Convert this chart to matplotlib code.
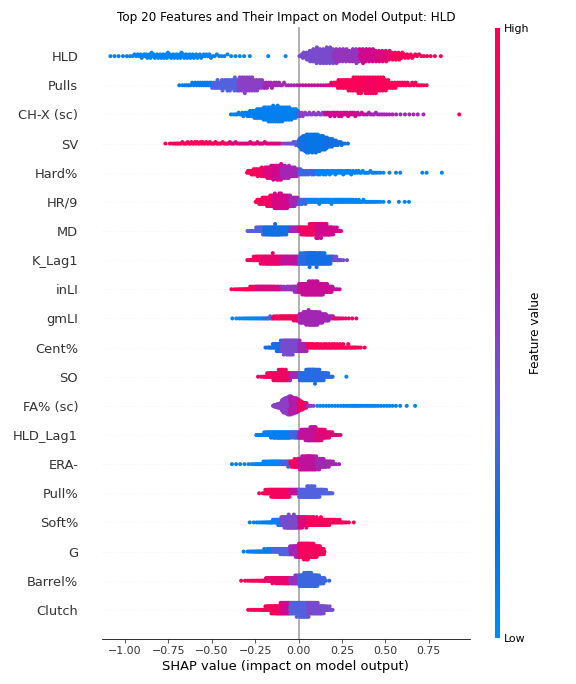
import numpy as np
import matplotlib
matplotlib.use('Agg')
import matplotlib.pyplot as plt
from matplotlib.colors import LinearSegmentedColormap

# =========================================================
# data: per feature, left edge of first 0.05-wide bin, point counts per bin,
# mean feature value per bin (0 = low, 1 = high)
# =========================================================
FEATURES = ['HLD', 'Pulls', 'CH-X (sc)', 'SV', 'Hard%', 'HR/9', 'MD', 'K_Lag1',
            'inLI', 'gmLI', 'Cent%', 'SO', 'FA% (sc)', 'HLD_Lag1', 'ERA-',
            'Pull%', 'Soft%', 'G', 'Barrel%', 'Clutch']

BIN_W = 0.05

X0 = [-1.10, -0.70, -0.40, -0.80, -0.30, -0.25, -0.30, -0.30,
      -0.40, -0.40, -0.20, -0.25, -0.15, -0.25, -0.40,
      -0.25, -0.30, -0.35, -0.35, -0.30]

COUNTS = [
    [2, 2, 3, 6, 8, 8, 9, 8, 9, 8, 7, 6, 4, 3, 2, 2, 1, 0, 1, 0, 1, 0,
     10, 22, 24, 26, 22, 20, 22, 22, 20, 18, 15, 12, 8, 5, 3, 2, 1],
    [3, 5, 7, 8, 12, 16, 18, 22, 20, 14, 9, 7, 4, 3,
     3, 3, 3, 5, 12, 16, 22, 24, 24, 20, 12, 8, 6, 5, 3],
    [4, 8, 16, 24, 34, 36, 30, 22, 8, 6, 6, 9, 10, 9, 8, 5, 5, 4, 3, 2, 2, 2, 1, 0, 0, 0, 1],
    [1, 4, 6, 7, 8, 7, 6, 6, 6, 5, 6, 6, 5, 5, 4, 10, 50, 60, 50, 30, 14, 3],
    [14, 22, 32, 40, 34, 24, 14, 12, 12, 11, 10, 10, 8, 6, 5, 3, 1, 2, 0, 0, 2, 0, 1],
    [16, 30, 42, 38, 26, 14, 12, 12, 12, 12, 11, 9, 7, 5, 3, 1, 1, 2],
    [8, 18, 26, 28, 22, 18, 24, 34, 40, 28, 10],
    [10, 20, 26, 26, 22, 24, 30, 36, 32, 24, 10, 2],
    [3, 6, 12, 16, 16, 14, 12, 18, 36, 46, 40, 24, 4],
    [2, 4, 5, 6, 8, 12, 14, 18, 40, 50, 36, 18, 6, 3, 2],
    [6, 24, 38, 36, 24, 14, 12, 12, 12, 10, 6, 2],
    [3, 16, 30, 32, 20, 30, 40, 30, 12, 0, 1],
    [25, 105, 100, 45, 4, 3, 3, 3, 4, 5, 4, 4, 3, 3, 2, 1, 1],
    [8, 20, 30, 30, 26, 40, 56, 46, 22, 6],
    [2, 2, 3, 8, 14, 16, 16, 26, 44, 46, 34, 18, 3],
    [2, 22, 34, 32, 24, 34, 40, 26, 10],
    [2, 4, 8, 20, 40, 42, 36, 30, 26, 20, 12, 4, 1],
    [1, 6, 10, 16, 22, 30, 44, 66, 60, 36],
    [2, 5, 7, 18, 24, 26, 32, 50, 52, 30, 2],
    [4, 6, 20, 30, 40, 42, 46, 42, 30, 12],
]

FVALS = [
    [0.05] * 22 + [0.45, 0.45, 0.45, 0.45, 0.55, 0.55, 0.55, 0.75, 0.75, 0.8, 0.85, 0.95, 0.95, 0.95, 0.95, 0.95, 0.95],
    [0.1, 0.1, 0.1, 0.1, 0.35, 0.35, 0.35, 0.5, 0.5, 0.5, 0.6, 0.6, 0.6, 0.6,
     0.7, 0.7, 0.7, 0.8, 0.93, 0.95, 0.95, 0.93, 0.9, 0.95, 0.95, 0.95, 0.95, 0.95, 0.95],
    [0.08] * 8 + [0.5, 0.5, 0.5, 0.75, 0.75, 0.75, 0.75, 0.7, 0.6, 0.6, 0.6, 0.6, 0.6, 0.6, 0.6, 0.6, 0.6, 0.6, 0.97],
    [0.95] * 8 + [0.8] * 6 + [0.45, 0.4, 0.2, 0.15, 0.15, 0.2, 0.2, 0.15],
    [0.95, 0.92, 0.8, 0.75, 0.6, 0.6, 0.3, 0.3] + [0.05] * 15,
    [0.95, 0.9, 0.78, 0.75, 0.6, 0.3] + [0.05] * 12,
    [0.35, 0.35, 0.2, 0.2, 0.2, 0.6, 0.88, 0.88, 0.75, 0.75, 0.75],
    [0.88, 0.88, 0.85, 0.85, 0.7, 0.7, 0.25, 0.2, 0.2, 0.2, 0.45, 0.45],
    [0.97, 0.97, 0.97, 0.8, 0.8, 0.78, 0.55, 0.55, 0.72, 0.72, 0.72, 0.72, 0.72],
    [0.05, 0.05, 0.05, 0.05, 0.3, 0.93, 0.93, 0.93, 0.6, 0.6, 0.6, 0.6, 0.85, 0.85, 0.85],
    [0.2, 0.2, 0.45, 0.45, 0.6, 0.95, 0.95, 0.95, 0.95, 0.95, 0.95, 0.95],
    [0.9, 0.9, 0.88, 0.88, 0.6, 0.25, 0.25, 0.25, 0.25, 0.05, 0.05],
    [0.5, 0.5, 0.65, 0.88, 0.5] + [0.05] * 12,
    [0.08, 0.08, 0.08, 0.08, 0.3, 0.7, 0.7, 0.82, 0.82, 0.82],
    [0.05] * 6 + [0.3, 0.9, 0.7, 0.7, 0.6, 0.6, 0.6],
    [0.93, 0.93, 0.9, 0.9, 0.7, 0.35, 0.35, 0.35, 0.35],
    [0.08, 0.08, 0.08, 0.08, 0.45, 0.45, 0.8, 0.93, 0.93, 0.93, 0.93, 0.93, 0.95],
    [0.08, 0.08, 0.08, 0.08, 0.35, 0.35, 0.6, 0.92, 0.92, 0.92],
    [0.95, 0.95, 0.95, 0.85, 0.85, 0.85, 0.55, 0.3, 0.3, 0.3, 0.3],
    [0.95, 0.95, 0.93, 0.93, 0.75, 0.35, 0.35, 0.45, 0.45, 0.45],
]

# shap-like red/blue map
red_blue = LinearSegmentedColormap.from_list('red_blue', [
    (0.00, '#008bfb'), (0.18, '#0a70e2'), (0.35, '#5262de'), (0.50, '#8a40c4'),
    (0.62, '#a820b0'), (0.75, '#d0088f'), (0.88, '#f00462'), (1.00, '#ff0051')])


def bin_positions(counts, x0):
    """place each bin's points with a density sloping towards its neighbours"""
    xs, owner = [], []
    padded = [0] + list(counts) + [0]
    for b, n in enumerate(counts):
        if n == 0:
            continue
        dl = (padded[b] + n) / 2
        dr = (n + padded[b + 2]) / 2
        a = (dr - dl) / 2
        for k in range(n):
            c = (k + 0.5) / n * (dl + dr) / 2
            if abs(a) < 1e-9:
                t = c / dl
            else:
                t = (-dl + np.sqrt(dl * dl + 4 * a * c)) / (2 * a)
            xs.append(x0 + (b + t) * BIN_W)
            owner.append(b)
    return np.array(xs), owner


def swarm_y(xs, row_height=0.4, nbins=100):
    # same stacking as shap's beeswarm, without the random tie-break
    quant = np.round(nbins * (xs - xs.min()) / (xs.max() - xs.min() + 1e-8))
    inds = np.argsort(quant, kind='stable')
    layer = 0
    last_bin = -1
    ys = np.zeros(len(xs))
    for ind in inds:
        if quant[ind] != last_bin:
            layer = 0
        ys[ind] = np.ceil(layer / 2) * ((layer % 2) * 2 - 1)
        layer += 1
        last_bin = quant[ind]
    ys *= 0.9 * (row_height / np.max(ys + 1))
    return ys


fig = plt.figure(figsize=(8, 9.5), dpi=72)
ax = fig.add_axes([101.7 / 576, 1 - 639 / 684, (470 - 101.7) / 576, (639 - 27) / 684])

n_feat = len(FEATURES)
for i, name in enumerate(FEATURES):
    pos = n_feat - 1 - i
    xs, owner = bin_positions(COUNTS[i], X0[i])
    cs = [FVALS[i][b] for b in owner]
    ys = swarm_y(xs)
    ax.axhline(y=pos, color='#cccccc', lw=0.5, dashes=(1, 5), zorder=-1)
    ax.scatter(xs, pos + ys, c=cs, cmap=red_blue, vmin=0, vmax=1, s=16,
               linewidth=0, alpha=1, zorder=3, rasterized=True)

ax.axvline(x=0, color='#999999', zorder=-1)

ax.xaxis.set_ticks_position('bottom')
ax.yaxis.set_ticks_position('none')
for side in ['right', 'top', 'left']:
    ax.spines[side].set_visible(False)
ax.tick_params(color='#333333', labelcolor='#333333')
ax.set_yticks(range(n_feat))
ax.set_yticklabels(FEATURES[::-1], fontsize=13)
ax.tick_params('y', length=20, width=0.5, which='major')
ax.tick_params('x', labelsize=11)
ax.set_xticks([-1.0, -0.75, -0.5, -0.25, 0.0, 0.25, 0.5, 0.75])
ax.set_xlim(-1.134, 0.987)
ax.set_ylim(-1, n_feat)
ax.set_xlabel('SHAP value (impact on model output)', fontsize=13)
ax.set_title('Top 20 Features and Their Impact on Model Output: HLD', fontsize=12)

# colorbar
cax = fig.add_axes([495 / 576, 1 - 638 / 684, 5 / 576, (638 - 28) / 684])
sm = plt.cm.ScalarMappable(cmap=red_blue)
sm.set_array([0, 1])
cb = fig.colorbar(sm, cax=cax, ticks=[0, 1])
cb.set_ticklabels(['Low', 'High'])
cb.set_label('Feature value', size=12, labelpad=0)
cb.ax.tick_params(labelsize=11, length=0)
cb.outline.set_visible(False)

fig.savefig('out.png', dpi=72)
